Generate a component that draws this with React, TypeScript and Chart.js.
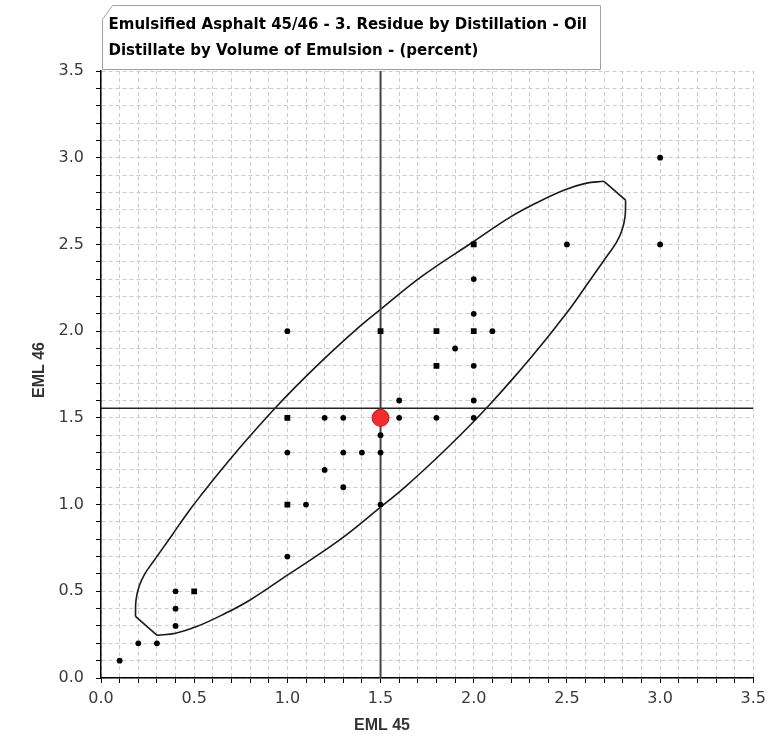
import React, { useEffect, useRef } from "react";
import { Chart, registerables } from "chart.js";

Chart.register(...registerables);

const TITLE_LINES = [
  "Emulsified Asphalt 45/46 - 3. Residue by Distillation - Oil",
  "Distillate by Volume of Emulsion - (percent)",
];
const X_TITLE = "EML 45";
const Y_TITLE = "EML 46";

const AXIS_MIN = 0;
const AXIS_MAX = 3.5;
const MINOR_STEP = 0.1;

const MEAN_X = 1.5;
const MEAN_Y = 1.555;
const MEDIAN_POINT = [{ x: 1.5, y: 1.5 }];

// single lab results
const labX = [0.1, 0.2, 0.3, 0.4, 0.4, 0.4, 1.0, 1.1, 1.0, 1.0, 1.2, 1.2, 1.3, 1.3, 1.3, 1.4, 1.5, 1.5, 1.5, 1.6, 1.6, 1.8, 1.9, 2.0, 2.0, 2.0, 2.0, 2.1, 2.0, 2.5, 3.0, 3.0];
const labY = [0.1, 0.2, 0.2, 0.3, 0.4, 0.5, 0.7, 1.0, 1.3, 2.0, 1.2, 1.5, 1.5, 1.3, 1.1, 1.3, 1.0, 1.3, 1.4, 1.5, 1.6, 1.5, 1.9, 1.5, 1.6, 1.8, 2.1, 2.0, 2.3, 2.5, 2.5, 3.0];

// coincident (repeated) lab results
const dupX = [0.5, 1.0, 1.0, 1.5, 1.8, 1.8, 2.0, 2.0];
const dupY = [0.5, 1.0, 1.5, 2.0, 1.8, 2.0, 2.0, 2.5];

// confidence ellipse outline
// upper arc: lower-left end -> upper-right end
const upperArcX = [0.185, 0.188, 0.205, 0.235, 0.28, 0.38, 0.474, 0.55, 0.634, 0.777, 0.92, 1.045, 1.2, 1.366, 1.5, 1.723, 2.0, 2.2, 2.347, 2.49, 2.6, 2.699];
const upperArcY = [0.355, 0.45, 0.53, 0.60, 0.67, 0.822, 0.966, 1.072, 1.185, 1.368, 1.540, 1.680, 1.843, 2.006, 2.125, 2.317, 2.517, 2.66, 2.745, 2.815, 2.852, 2.864];
// lower arc: upper-right end -> lower-left end
const lowerArcX = [2.815, 2.812, 2.795, 2.765, 2.72, 2.62, 2.526, 2.45, 2.366, 2.223, 2.08, 1.955, 1.8, 1.634, 1.5, 1.277, 1.0, 0.8, 0.653, 0.51, 0.40, 0.301];
const lowerArcY = [2.755, 2.66, 2.58, 2.51, 2.44, 2.288, 2.144, 2.038, 1.925, 1.742, 1.570, 1.430, 1.267, 1.104, 0.985, 0.793, 0.593, 0.45, 0.365, 0.295, 0.258, 0.246];

const zip = (xs: number[], ys: number[]) => xs.map((x, i) => ({ x, y: ys[i] }));

const isMajor = (v: number) => Math.abs(v * 2 - Math.round(v * 2)) < 1e-6;

const titleBoxPlugin = {
  id: "titleBox",
  afterDraw(chart: any) {
    const ctx = chart.ctx as CanvasRenderingContext2D;
    const area = chart.chartArea;
    ctx.save();
    const l = area.left + 1.5;
    const t = 5.5;
    const r = 600.5;
    const b = area.top - 1.5;
    ctx.beginPath();
    ctx.moveTo(l, t + 14);
    ctx.lineTo(l + 10, t);
    ctx.lineTo(r, t);
    ctx.lineTo(r, b);
    ctx.lineTo(l, b);
    ctx.closePath();
    ctx.fillStyle = "#ffffff";
    ctx.fill();
    ctx.strokeStyle = "#a0a0a0";
    ctx.lineWidth = 1;
    ctx.stroke();
    ctx.fillStyle = "#000";
    ctx.font = "bold 15px 'DejaVu Sans', sans-serif";
    ctx.textAlign = "left";
    ctx.textBaseline = "alphabetic";
    ctx.fillText(TITLE_LINES[0], l + 6, 29);
    ctx.fillText(TITLE_LINES[1], l + 6, 55);

    ctx.fillStyle = "#333";
    ctx.font = "bold 16px 'Liberation Sans', Arial, sans-serif";
    ctx.textAlign = "center";
    ctx.textBaseline = "middle";
    ctx.fillText(X_TITLE, chart.width / 2 - 4, 726);
    ctx.translate(40, 370);
    ctx.rotate(-Math.PI / 2);
    ctx.fillText(Y_TITLE, 0, 0);
    ctx.restore();
  },
};

export default function App() {
  const ref = useRef<HTMLCanvasElement | null>(null);

  useEffect(() => {
    document.body.style.margin = "0";
    const canvas = ref.current;
    if (!canvas) return;

    const tickFont = { family: "'DejaVu Sans', sans-serif", size: 16 };
    const makeScale = (isX: boolean) => ({
      type: "linear" as const,
      min: AXIS_MIN,
      max: AXIS_MAX,
      ticks: {
        stepSize: MINOR_STEP,
        autoSkip: false,
        maxRotation: 0,
        minRotation: 0,
        color: "#3a3a3a",
        font: tickFont,
        padding: isX ? 6 : 12,
        callback: (v: any) => (isMajor(Number(v)) ? Number(v).toFixed(1) : ""),
      },
      grid: {
        color: "#cccccc",
        lineWidth: 1,
        tickColor: "#000",
        tickLength: 5,
        tickBorderDash: [],
        drawTicks: true,
        drawOnChartArea: true,
      },
      border: { display: true, color: "#000", width: 1.5, dash: [4, 3] },
      afterFit: (s: any) => {
        if (isX) s.height = 62;
        else s.width = 93;
      },
    });

    const outline = {
      showLine: true,
      borderColor: "#1a1a1a",
      borderWidth: 1.6,
      pointRadius: 0,
      fill: false,
      order: 3,
    };
    const upper = zip(upperArcX, upperArcY);
    const lower = zip(lowerArcX, lowerArcY);

    const chart = new Chart(canvas, {
      type: "scatter",
      data: {
        datasets: [
          {
            label: "Median",
            data: MEDIAN_POINT,
            pointRadius: 8.5,
            pointBackgroundColor: "#f22c2c",
            pointBorderColor: "#c41414",
            pointBorderWidth: 1,
            order: 0,
          },
          {
            label: "Labs",
            data: zip(labX, labY),
            pointRadius: 2.9,
            pointBackgroundColor: "#000",
            pointBorderWidth: 0,
            order: 1,
          },
          {
            label: "Repeated",
            data: zip(dupX, dupY),
            pointStyle: "rect",
            pointRadius: 4.1,
            pointBackgroundColor: "#000",
            pointBorderWidth: 0,
            order: 1,
          },
          {
            label: "Mean X",
            data: [
              { x: MEAN_X, y: AXIS_MIN },
              { x: MEAN_X, y: AXIS_MAX },
            ],
            showLine: true,
            borderColor: "#444",
            borderWidth: 2,
            pointRadius: 0,
            order: 2,
          },
          {
            label: "Mean Y",
            data: [
              { x: AXIS_MIN, y: MEAN_Y },
              { x: AXIS_MAX, y: MEAN_Y },
            ],
            showLine: true,
            borderColor: "#222",
            borderWidth: 1.5,
            pointRadius: 0,
            order: 2,
          },
          { label: "Ellipse upper", data: upper, tension: 0.4, ...outline },
          { label: "Ellipse lower", data: lower, tension: 0.4, ...outline },
          { label: "Ellipse end 1", data: [upper[upper.length - 1], lower[0]], tension: 0, ...outline },
          { label: "Ellipse end 2", data: [lower[lower.length - 1], upper[0]], tension: 0, ...outline },
        ],
      },
      options: {
        animation: false,
        responsive: false,
        maintainAspectRatio: false,
        layout: { padding: { left: 8, top: 71, right: 17, bottom: 0 } },
        plugins: {
          legend: { display: false },
          tooltip: { enabled: false },
          title: { display: false },
        },
        scales: {
          x: makeScale(true) as any,
          y: makeScale(false) as any,
        },
      },
      plugins: [titleBoxPlugin],
    });

    return () => chart.destroy();
  }, []);

  return (
    <div style={{ width: 772, height: 740, background: "#fff" }}>
      <canvas ref={ref} width={772} height={740} style={{ display: "block", width: 772, height: 740 }} />
    </div>
  );
}
